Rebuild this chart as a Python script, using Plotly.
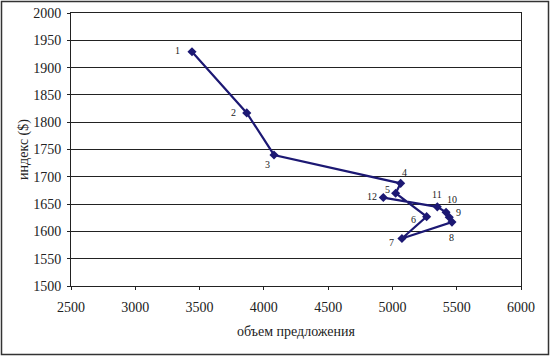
import plotly.graph_objects as go

labels = ["1", "2", "3", "4", "5", "6", "7", "8", "9", "10", "11", "12"]
supply = [3441, 3867, 4079, 5064, 5025, 5266, 5074, 5463, 5442, 5417, 5349, 4929]
index_usd = [1929, 1817, 1740, 1688, 1670, 1627, 1587, 1617, 1626, 1635, 1645, 1662]

label_shift = [(-14, 1), (-13, 0), (-7, -10), (4, 11), (-8, 4), (-13, -3),
               (-10, -4), (0, -15), (9, 5), (6, 13), (0, 12), (-11, 1)]

W, H = 550, 356
ml, mr, mt, mb = 71, 29, 13, 70
pw, ph = W - ml - mr, H - mt - mb

fig = go.Figure()
fig.add_trace(go.Scatter(
    x=supply, y=index_usd, mode="lines+markers",
    line=dict(color="#1c1873", width=2.2),
    marker=dict(symbol="diamond", size=7, color="#1c1873"),
    showlegend=False, hoverinfo="skip"))

for lab, xv, yv, (dx, dy) in zip(labels, supply, index_usd, label_shift):
    fig.add_annotation(x=xv, y=yv, text=lab, showarrow=False,
                       xshift=dx, yshift=dy,
                       font=dict(family="Liberation Serif", size=10, color="#222"))

fig.add_shape(type="rect", xref="paper", yref="paper",
              x0=-(ml - 1.5) / pw, x1=1 + (mr - 1.5) / pw,
              y0=-(mb - 1.5) / ph, y1=1 + (mt - 1.5) / ph,
              line=dict(color="#333", width=1.5))

fig.update_layout(
    width=W, height=H,
    margin=dict(l=ml, r=mr, t=mt, b=mb, autoexpand=False),
    paper_bgcolor="white", plot_bgcolor="white",
    font=dict(family="Liberation Serif", size=14, color="#222"),
    xaxis=dict(range=[2500, 6000], dtick=500, tick0=2500, automargin=False,
               showgrid=False, zeroline=False,
               showline=True, linecolor="#222", linewidth=1, mirror=True,
               ticks="outside", ticklen=3, tickcolor="#222",
               ticklabelstandoff=5,
               title=dict(text="объем предложения", standoff=12,
                          font=dict(size=14))),
    yaxis=dict(range=[1500, 2000], dtick=50, tick0=1500, automargin=False,
               showgrid=True, gridcolor="#222", gridwidth=1, zeroline=False,
               showline=True, linecolor="#222", linewidth=1, mirror=True,
               ticks="outside", ticklen=3, tickcolor="#222",
               ticklabelstandoff=3,
               title=dict(text="индекс ($)", standoff=1,
                          font=dict(size=14))),
)

fig.write_html("out.html", config={"displayModeBar": False},
               post_script="document.body.style.margin='0';document.body.style.overflow='hidden';")
